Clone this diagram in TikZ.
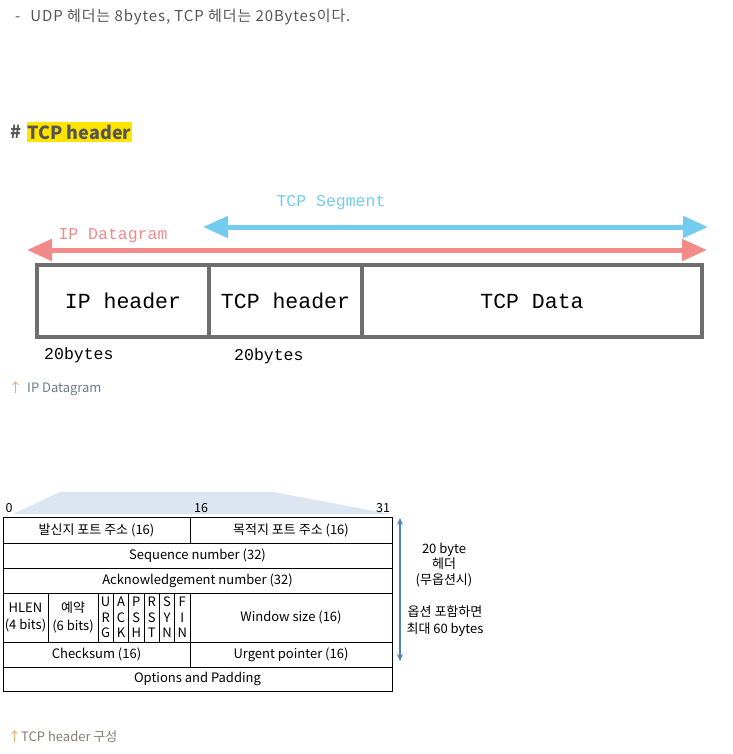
\documentclass[tikz,border=0pt]{standalone}
\usepackage{fontspec}
\setmainfont{Noto Sans CJK KR}
\newfontfamily\codefont{Liberation Mono}
\usetikzlibrary{arrows.meta,positioning}

\definecolor{txtgray}{HTML}{555555}
\definecolor{hlyellow}{HTML}{FFE400}
\definecolor{boxgray}{HTML}{6E6E6E}
\definecolor{dgred}{HTML}{F28A8C}
\definecolor{segblue}{HTML}{74CBF0}
\definecolor{trapblue}{HTML}{DCE6F2}
\definecolor{hdblue}{HTML}{4F81BD}
\definecolor{capgray}{HTML}{6B7B8C}
\definecolor{caporange}{HTML}{E8A060}

\begin{document}
\begin{tikzpicture}[x=1pt,y=-1pt,every node/.style={inner sep=0pt},
    segbox/.style={draw=boxgray,line width=4pt,anchor=north west,outer sep=0pt,
                   minimum height=72pt,font=\codefont\fontsize{21.5}{24}\selectfont},
    cell/.style={draw=black,line width=0.8pt,anchor=north west,outer sep=0pt,
                 align=center,font=\fontsize{13}{16}\selectfont},
    bigarrow/.style={line width=5pt,{Triangle[length=25pt,width=21pt]}-{Triangle[length=25pt,width=21pt]}}]

  \useasboundingbox (0,0) rectangle (732,754);

  % intro line and heading
  \node[anchor=west,text=txtgray,font=\fontsize{15}{18}\selectfont\addfontfeature{LetterSpace=6}] (udp) at (15,17)
    {-\hspace{10pt}UDP 헤더는 8bytes, TCP 헤더는 20Bytes이다.};
  \node[anchor=west,text=txtgray,font=\bfseries\fontsize{18}{22}\selectfont] (hash) at (10,132) {\#};
  \node[right=5pt of hash,fill=hlyellow,inner ysep=3pt,inner xsep=1pt,text=txtgray,
        font=\bfseries\fontsize{18}{22}\selectfont] (title) {TCP header};

  % IP datagram
  \coordinate (segL) at (203,227);
  \coordinate (segR) at (708,227);
  \coordinate (dgL) at (27,250);
  \coordinate (dgR) at (707,250);
  \draw[bigarrow,segblue] (segL) -- (segR);
  \draw[bigarrow,dgred] (dgL) -- (dgR);
  \node[text=segblue,font=\codefont\fontsize{16.5}{20}\selectfont] (seglbl) at (331,203) {TCP Segment};
  \node[text=dgred,font=\codefont\fontsize{16.5}{20}\selectfont] (dglbl) at (113,236) {IP Datagram};

  \node[segbox,minimum width=172pt] (iph) at (37,265) {IP header};
  \node[segbox,minimum width=153pt] (tcph) at (209,265) {TCP header};
  \node[segbox,minimum width=340pt] (data) at (362,265) {TCP Data};
  \node[anchor=west,font=\codefont\fontsize{16.5}{20}\selectfont] (iplen) at (44,355) {20bytes};
  \node[anchor=west,font=\codefont\fontsize{16.5}{20}\selectfont] (tcplen) at (234,356) {20bytes};

  \node[anchor=west,font=\fontsize{13}{16}\selectfont] (cap1) at (9,389)
    {\textcolor{caporange}{↑}\hspace{5pt}\textcolor{capgray}{IP Datagram}};

  % TCP header table
  \fill[trapblue] (60,492) -- (273,492) -- (390,514) -- (13,514) -- cycle;
  \node[font=\fontsize{12.5}{15}\selectfont] (b0) at (9,508) {0};
  \node[font=\fontsize{12.5}{15}\selectfont] (b16) at (201,508) {16};
  \node[font=\fontsize{12.5}{15}\selectfont] (b31) at (383,508) {31};

  \node[cell,minimum width=187pt,minimum height=26pt] (src) at (3,517) {발신지 포트 주소 (16)};
  \node[cell,minimum width=202pt,minimum height=26pt] (dst) at (190,517) {목적지 포트 주소 (16)};
  \node[cell,minimum width=389pt,minimum height=25pt] (seq) at (3,543) {Sequence number (32)};
  \node[cell,minimum width=389pt,minimum height=25pt] (ack) at (3,568) {Acknowledgement number (32)};
  \node[cell,minimum width=45pt,minimum height=49pt,font=\fontsize{13}{17.5}\selectfont] (hlen) at (3,593) {HLEN\\(4 bits)};
  \node[cell,minimum width=50pt,minimum height=49pt,font=\fontsize{13}{17.5}\selectfont] (rsv) at (48,593) {예약\\(6 bits)};
  \foreach \f [count=\i from 0] in {{U\\R\\G},{A\\C\\K},{P\\S\\H},{R\\S\\T},{S\\Y\\N},{F\\I\\N}}
    \node[cell,minimum width=15.33pt,minimum height=49pt,font=\fontsize{13}{15.5}\selectfont] (flag\i) at (98+15.33*\i,593) {\f};
  \node[cell,minimum width=202pt,minimum height=49pt] (win) at (190,593) {Window size (16)};
  \node[cell,minimum width=187pt,minimum height=25pt] (chk) at (3,642) {Checksum (16)};
  \node[cell,minimum width=202pt,minimum height=25pt] (urg) at (190,642) {Urgent pointer (16)};
  \node[cell,minimum width=389pt,minimum height=24pt] (opts) at (3,667) {Options and Padding};

  \coordinate (hdtop) at (400,518);
  \coordinate (hdbot) at (400,661);
  \draw[hdblue,line width=1.5pt,{Stealth[length=7pt,width=6pt]}-{Stealth[length=7pt,width=6pt]}] (hdtop) -- (hdbot);
  \node[align=center,font=\fontsize{13}{15.5}\selectfont] (hdr) at (444,565) {20 byte\\헤더\\(무옵션시)};
  \node[align=center,font=\fontsize{13}{17}\selectfont] (optlbl) at (445,621) {옵션 포함하면\\최대 60 bytes};

  \node[anchor=west,font=\fontsize{13}{16}\selectfont] (cap2) at (8,737)
    {\textcolor{caporange}{↑}\textcolor{capgray!70!brown}{TCP header 구성}};
\end{tikzpicture}
\end{document}
